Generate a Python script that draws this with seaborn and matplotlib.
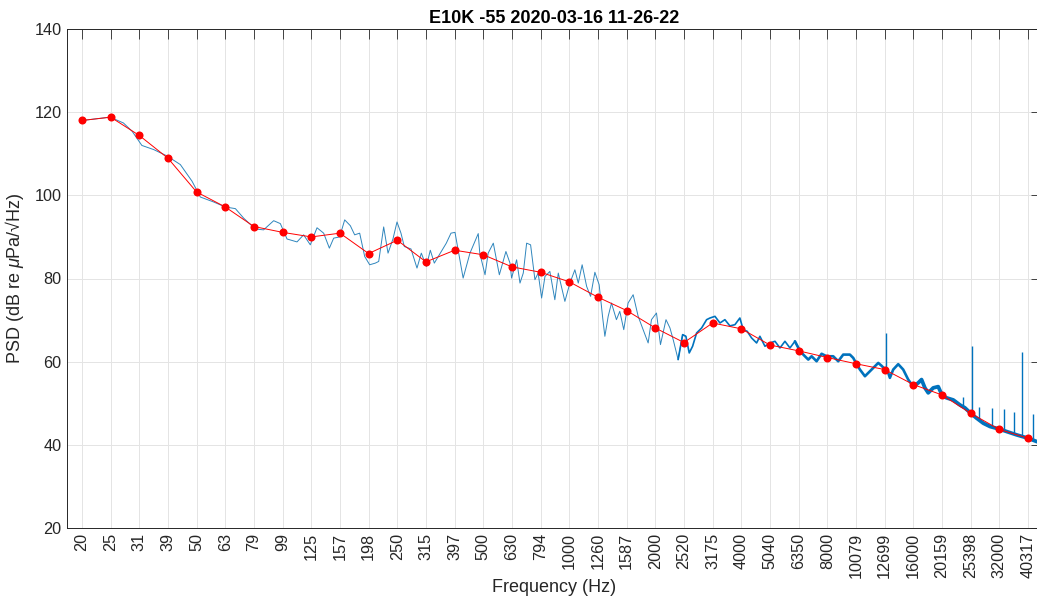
import numpy as np
import pandas as pd
import matplotlib
matplotlib.use("Agg")
import matplotlib.pyplot as plt
from matplotlib.ticker import NullLocator
import seaborn as sns

# third-octave band centres (Hz) and band levels
band_freq = [19.7, 24.8, 31.25, 39.4, 49.6, 62.5, 78.7, 99.2, 125, 157.5, 198.4,
             250, 315, 396.9, 500, 630, 793.7, 1000, 1259.9, 1587.4, 2000,
             2519.8, 3174.8, 4000, 5039.7, 6349.6, 8000, 10079.4, 12699.2,
             16000, 20158.7, 25398.4, 32000, 40317.5]
band_level = [118.0, 118.8, 114.4, 108.9, 100.8, 97.2, 92.5, 91.1, 90.0, 90.9,
              86.0, 89.2, 84.0, 86.8, 85.7, 82.8, 81.5, 79.2, 75.5, 72.3, 68.1,
              64.6, 69.3, 67.9, 64.0, 62.6, 61.0, 59.5, 58.1, 54.5, 52.0, 47.6,
              43.7, 41.6]
tick_labels = ["20", "25", "31", "39", "50", "63", "79", "99", "125", "157",
               "198", "250", "315", "397", "500", "630", "794", "1000", "1260",
               "1587", "2000", "2520", "3175", "4000", "5040", "6350", "8000",
               "10079", "12699", "16000", "20159", "25398", "32000", "40317"]

# narrowband PSD trace (Hz, dB)
psd_freq = [19.7, 24.7, 27.5, 29.5, 31.9, 35.1, 39.0, 43.5, 47.8, 51.1, 56.9, 62.5,
            67.8, 72.5, 79.6, 85.1, 92.3, 97.4, 102.8, 111.4, 117.5, 124.0, 130.9,
            138.1, 144.6, 149.7, 157.1, 163.6, 171.2, 177.3, 184.6, 192.2, 200.1,
            209.4, 215.2, 224.0, 232.0, 241.4, 249.4, 257.5, 264.5, 279.2, 293.0,
            303.4, 316.0, 326.2, 336.9, 353.6, 371.1, 385.3,
            398, 425, 449, 480, 486, 507, 520, 542, 569, 600, 620, 628, 654, 672,
            690, 709, 732, 758, 778, 800, 822, 855, 890, 915, 965, 1005, 1046,
            1075, 1109, 1150, 1187, 1229, 1272, 1307, 1332, 1368, 1405, 1462,
            1502, 1551, 1606, 1673, 1742, 1813, 1888, 1939, 2019, 2085,
            2180, 2251, 2310, 2404, 2451, 2493, 2559, 2629, 2701, 2790, 2905,
            3024, 3107, 3235, 3368, 3505, 3649, 3800, 3954, 4062, 4194, 4346,
            4525, 4647, 4840, 5041, 5247, 5462, 5686, 5920, 6163, 6383, 6592,
            6862, 7049, 7338, 7640, 7955, 8390, 8735, 9095, 9597,
            9860, 10079, 10406, 10835, 11281, 12062, 12393, 12725, 12964, 13247,
            13608, 14167, 14750, 15356, 15986, 16644, 17099, 17565, 18046, 18786,
            19558, 20159, 20913, 22077, 23296, 24252, 25398, 26663, 28120, 29690,
            32000, 33940, 36780, 40317, 43220, 44800]
psd_level = [118.0, 118.8, 117.4, 115.4, 112.0, 111.0, 109.5, 107.4, 103.4, 99.6,
             98.4, 97.2, 96.8, 94.5, 91.9, 91.7, 93.9, 93.2, 89.5, 88.8, 90.5,
             88.1, 92.2, 90.9, 87.3, 89.7, 90.0, 94.1, 92.7, 90.5, 90.9, 85.3,
             83.3, 83.7, 84.1, 92.4, 86.1, 89.5, 93.6, 90.9, 87.7, 87.1, 82.5,
             86.1, 82.9, 86.8, 83.7, 86.1, 88.5, 90.9,
             91.1, 80.1, 86.1, 90.8, 86.1, 80.9, 86.1, 88.5, 80.9, 86.5, 83.7,
             80.1, 84.5, 78.9, 81.3, 88.5, 88.1, 79.7, 81.3, 75.3, 80.5, 81.7,
             74.9, 81.3, 74.5, 78.9, 82.1, 78.9, 83.3, 78.1, 75.7, 81.5, 78.5,
             70.9, 66.1, 70.9, 74.1, 70.1, 72.1, 67.7, 74.1, 76.1, 70.9, 67.7,
             64.5, 70.1, 71.7, 64.1,
             70.1, 68.1, 65.3, 60.5, 63.7, 66.5, 66.1, 62.1, 63.7, 66.9, 68.1,
             70.1, 70.5, 70.9, 69.3, 70.1, 68.6, 68.9, 70.5, 67.7, 67.3, 65.7,
             64.5, 66.1, 63.7, 64.5, 64.9, 63.3, 64.9, 63.3, 64.9, 62.9, 61.7,
             60.5, 61.3, 60.1, 61.9, 61.3, 61.3, 60.1, 61.7, 61.7,
             60.9, 59.7, 58.1, 56.5, 57.7, 59.7, 59.0, 58.2, 58.1, 56.1, 58.1,
             59.4, 58.1, 55.7, 54.0, 54.9, 55.7, 53.7, 52.5, 53.7, 54.0, 52.0,
             51.3, 50.8, 49.6, 48.9, 47.6, 46.4, 45.2, 44.4, 43.8, 43.2, 42.4,
             41.6, 40.8, 40.5]

# tonal spikes in the high band
spike_freq = [12840, 23880, 25620, 27170, 30100, 33230, 36010, 38420, 41980]
spike_top = [66.9, 51.6, 63.8, 49.1, 48.9, 48.7, 48.0, 62.4, 47.5]
spike_base = [58.2, 49.3, 47.3, 46.0, 44.3, 43.3, 42.5, 42.0, 41.2]

sns.set_theme(style="white")
plt.rcParams["font.family"] = ["Liberation Sans", "DejaVu Sans"]
plt.rcParams["mathtext.fontset"] = "custom"
plt.rcParams["mathtext.rm"] = "Liberation Sans"
plt.rcParams["mathtext.it"] = "Liberation Sans:italic"

psd = pd.DataFrame({"freq": psd_freq, "level": psd_level})
bands = pd.DataFrame({"freq": band_freq, "level": band_level})

fig = plt.figure(figsize=(10.37, 6.01), dpi=100)
ax = fig.add_axes([67 / 1037, 73 / 601, 974 / 1037, 499 / 601])
ax.set_xscale("log")

blue = "#0072BD"
# the FFT bins get dense towards high frequency, so the trace looks thicker there
segments = [(0, 2600, 0.7, "#2f86bd"), (2400, 6500, 1.2, blue),
            (6000, 16500, 1.9, blue), (15900, 50000, 2.7, blue)]
for lo, hi, lw, col in segments:
    part = psd[(psd.freq >= lo) & (psd.freq <= hi)]
    sns.lineplot(data=part, x="freq", y="level", ax=ax, color=col, lw=lw,
                 sort=False, estimator=None, legend=False)
ax.vlines(spike_freq, spike_base, spike_top, color=blue, lw=1.0)

sns.lineplot(data=bands, x="freq", y="level", ax=ax, color="red", lw=0.7,
             marker="o", markersize=5.8, markeredgewidth=0, sort=False,
             estimator=None, legend=False)

ax.set_xlim(17.45, 44780)
ax.set_ylim(20, 140)
ax.set_xticks(band_freq)
ax.set_xticklabels(tick_labels, rotation=90)
ax.xaxis.set_minor_locator(NullLocator())
ax.set_yticks(range(20, 141, 20))

ax.set_axisbelow(True)
ax.grid(True, color="#e4e4e4", lw=0.7)
ax.tick_params(direction="in", length=7.2, width=0.6, colors="#262626",
               labelsize=11.7, top=True, right=True, pad=4)
ax.tick_params(axis="x", pad=3.5)
for s in ax.spines.values():
    s.set_color("#262626")
    s.set_linewidth(0.7)

ax.set_title("E10K -55 2020-03-16 11-26-22", fontsize=13, fontweight="bold",
             color="black", pad=4.5)
ax.set_xlabel("Frequency (Hz)", fontsize=13, color="#262626", labelpad=1)
ax.set_ylabel("PSD (dB re $\\mu$Pa/\u221aHz)", fontsize=13, color="#262626",
              labelpad=6)

fig.savefig("out.png", dpi=100)
